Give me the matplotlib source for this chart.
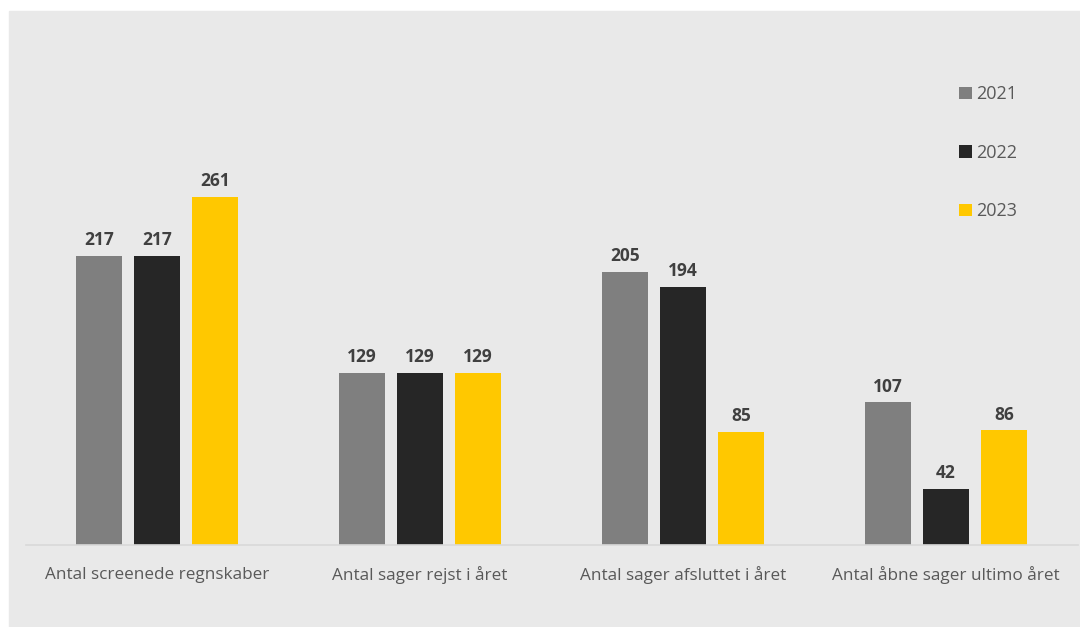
import matplotlib.pyplot as plt
import matplotlib.patches as patches
import numpy as np

plt.rcParams['font.family'] = ['Open Sans', 'DejaVu Sans']

categories = ["Antal screenede regnskaber", "Antal sager rejst i året",
              "Antal sager afsluttet i året", "Antal åbne sager ultimo året"]
years = ["2021", "2022", "2023"]
values_2021 = [217, 129, 205, 107]
values_2022 = [217, 129, 194, 42]
values_2023 = [261, 129, 85, 86]
colors = ["#7f7f7f", "#262626", "#ffc800"]

W, H = 1080, 627
fig = plt.figure(figsize=(W / 100, H / 100), dpi=100)
fig.patch.set_facecolor("white")
fig.add_artist(patches.Rectangle((9 / W, 0), 1 - 9 / W, 1 - 11 / H,
                                 transform=fig.transFigure, color="#e9e9e9", zorder=0))

# axes: x from 25.5 to 1077.5 px, baseline at 545 px, 1.332 px per unit
ymax = 300
left, right = 25.5, 1077.5
bottom = 545
top = bottom - 1.332 * ymax
ax = fig.add_axes([left / W, 1 - bottom / H, (right - left) / W, (bottom - top) / H])
ax.set_facecolor("none")

x = np.arange(len(categories))
width = 46 / 263
step = 58 / 263
series = [values_2021, values_2022, values_2023]
for i, (vals, c, yr) in enumerate(zip(series, colors, years)):
    bars = ax.bar(x + (i - 1) * step, vals, width, color=c, label=yr, zorder=2)
    for b, v in zip(bars, vals):
        ax.annotate(str(v), (b.get_x() + b.get_width() / 2, v), xytext=(0, 5),
                    textcoords="offset points", ha="center", va="bottom",
                    fontsize=12.5, fontweight="bold", color="#404040")

ax.set_xlim(-0.5, 3.5)
ax.set_ylim(0, ymax)
for s in ["top", "right", "left"]:
    ax.spines[s].set_visible(False)
ax.spines["bottom"].set_color("#d9d9d9")
ax.spines["bottom"].set_linewidth(1.2)
ax.set_yticks([])
ax.set_xticks(x)
ax.set_xticklabels(categories, fontsize=12.3, color="#595959")
ax.tick_params(axis="x", length=0, pad=15.5)

leg = ax.legend(loc="upper left", bbox_to_anchor=((952 - left) / (right - left), (bottom - 78) / (bottom - top)),
                frameon=False, fontsize=13, labelcolor="#595959",
                handlelength=0.7, handleheight=0.7, handletextpad=0.25,
                labelspacing=2.25, borderaxespad=0)

fig.savefig("out.png", dpi=100)
